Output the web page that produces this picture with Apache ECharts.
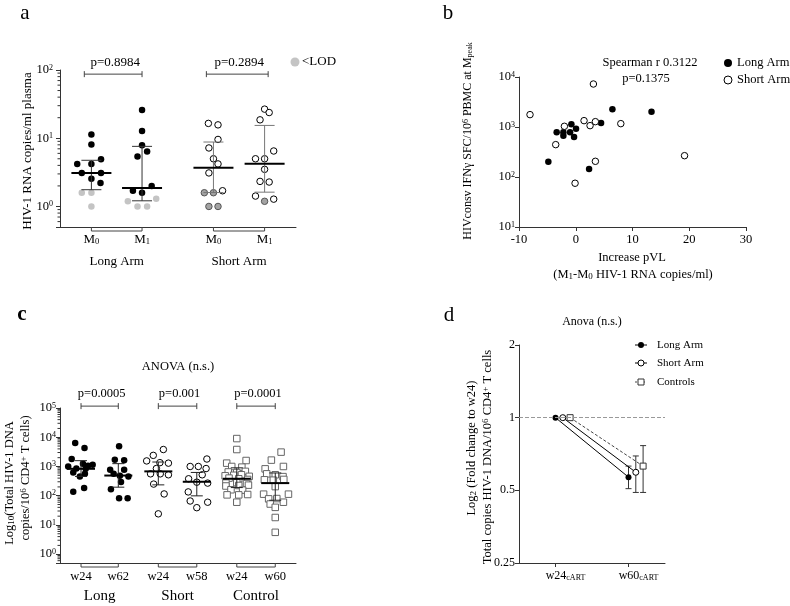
<!DOCTYPE html>
<html>
<head>
<meta charset="utf-8">
<title>HIV-1 RNA, HIVconsv responses and total HIV-1 DNA</title>
<script src="https://cdn.jsdelivr.net/npm/echarts@6.0.0/dist/echarts.min.js"></script>
</head>
<body style="margin: 0">
<div id="main" style="width: 790px; height: 606px"></div>
<script>
// ---------- panel a : plasma HIV-1 RNA at M0 / M1 ----------
var aPos = [1, 2, 3.41, 4.42];
var aTickMain = ['M', 'M', 'M', 'M'];
var aTickSub = ['0', '1', '0', '1'];
var aGroups = ['Long Arm', 'Short Arm'];
var aPvals = ['p=0.8984', 'p=0.2894'];
var aBracketX = [[0.86, 2.0], [3.27, 4.49]];
// [jitter from group position, copies/ml]
var aLongM0 = [[0, 11.3], [0, 8.1], [0.19, 4.9], [-0.28, 4.2], [0, 4.2], [-0.19, 3.1], [0.19, 3.1], [0, 2.55], [0.18, 2.2]];
var aLongM0Lod = [[-0.19, 1.59], [0, 1.59], [0, 1.0]];
var aLongM1 = [[0, 26], [0, 12.8], [0, 7.9], [0.1, 6.4], [-0.09, 5.4], [0.19, 2.0], [-0.18, 1.7], [0, 1.59]];
var aLongM1Lod = [[0.28, 1.3], [-0.28, 1.19], [-0.09, 1.0], [0.1, 1.0]];
var aShortM0 = [[-0.1, 16.5], [0.09, 15.7], [0.09, 9.6], [-0.09, 7.2], [0, 5.0], [0.09, 4.2], [-0.09, 3.1], [0.18, 1.7]];
var aShortM0Lod = [[-0.18, 1.59], [0, 1.59], [-0.09, 1.0], [0.09, 1.0]];
var aShortM1 = [[0, 26.7], [0.09, 23.8], [-0.09, 18.6], [0.18, 6.5], [-0.18, 5.0], [0, 5.0], [0, 3.5], [-0.09, 2.33], [0.09, 2.28], [-0.18, 1.42], [0.18, 1.28]];
var aShortM1Lod = [[0, 1.19]];
var aMedian = [3.1, 1.86, 3.7, 4.24];
var aLow = [1.76, 1.21, 1.6, 1.62];
var aHigh = [4.75, 7.6, 8.8, 15.4];

// ---------- panel b : increase pVL vs HIVconsv response ----------
var bLong = [[-4.83, 203], [-3.36, 783], [-2.18, 783], [-2.18, 672], [-1.0, 783], [-0.77, 1133], [-0.3, 631], [0.05, 927], [2.35, 145], [4.46, 1202], [6.46, 2259], [13.35, 2028]];
var bShort = [[-8.06, 1767], [-3.53, 444], [-2.0, 1033], [-0.12, 75], [1.46, 1340], [2.52, 1064], [3.11, 7244], [3.46, 1279], [3.46, 206], [7.94, 1167], [19.17, 267]];

// ---------- panel c : total HIV-1 DNA ----------
var cPos = [1, 1.96, 2.99, 3.98, 5.01, 6.0];
var cTicks = ['w24', 'w62', 'w24', 'w58', 'w24', 'w60'];
var cGroups = ['Long', 'Short', 'Control'];
var cPvals = ['p=0.0005', 'p=0.001', 'p=0.0001'];
var cLongW24 = [[-0.15, 6400], [0.09, 4300], [-0.24, 1800], [0.05, 1250], [0.3, 1150], [-0.33, 1000], [0.18, 1050], [-0.12, 850], [0.12, 830], [-0.2, 620], [0.1, 560], [-0.03, 450], [-0.2, 138], [0.08, 182]];
var cLongW62 = [[0.02, 4900], [-0.09, 1700], [0.15, 1620], [-0.21, 780], [0.15, 780], [0.04, 480], [0.26, 455], [-0.12, 560], [0.07, 292], [-0.19, 165], [0.02, 82], [0.24, 82]];
var cShortW24 = [[0.13, 3800], [-0.13, 2400], [-0.3, 1550], [0.04, 1350], [0.26, 1300], [-0.05, 850], [-0.2, 560], [0.05, 560], [0.26, 520], [-0.12, 250], [0.15, 115], [0, 24]];
var cShortW58 = [[0.26, 1800], [-0.17, 1000], [0.04, 1000], [0.24, 850], [0.14, 520], [-0.21, 380], [0, 290], [0.28, 270], [-0.22, 135], [-0.17, 66], [0.28, 60], [0, 39]];
var cCtrlW24 = [[0, 9000], [0, 3800], [0.24, 1600], [-0.26, 1300], [-0.13, 1000], [0.13, 950], [-0.22, 650], [0, 620], [0.22, 680], [-0.3, 480], [-0.08, 500], [0.12, 520], [0.32, 460], [-0.2, 400], [0.05, 380], [0.28, 360], [-0.28, 270], [0, 280], [0.25, 260], [-0.28, 215], [0.05, 224], [0.3, 230], [-0.15, 160], [0.15, 155], [-0.25, 107], [0.05, 107], [0.28, 110], [0, 60]];
var cCtrlW60 = [[0.15, 3100], [-0.1, 1650], [-0.26, 830], [0.21, 1000], [-0.22, 560], [0, 520], [0.2, 450], [-0.28, 350], [-0.05, 340], [0.22, 360], [0, 205], [-0.3, 113], [0.34, 113], [-0.17, 78], [0.04, 80], [0.21, 60], [-0.13, 52], [0, 40], [0, 18], [0, 5.6]];
var cMedian = [833, 490, 680, 300, 380, 270];
var cLow = [457, 196, 235, 99, 190, 70];
var cHigh = [1580, 1250, 1420, 625, 900, 600];

// ---------- panel d : fold change to w24 ----------
var dPos = [1, 2];
var dTicks = ['w24', 'w60'];
var dNames = ['Long Arm', 'Short Arm', 'Controls'];
var dValues = [[1, 0.567], [1, 0.594], [1, 0.63]];
var dLow = [0.508, 0.49, 0.49];
var dHigh = [0.63, 0.694, 0.766];

var SERIF = '"Liberation Serif", "DejaVu Serif", serif';
var AXIS = '#333';
var dShift = [0, 0.1, 0.2];

function place(pos, pts) {
    return pts.map(function (p) { return [pos + p[0], p[1]]; });
}

function powLabel(v) {
    if (v < 0.9) return '';
    return '{b|10}{s|' + Math.round(Math.log10(v)) + '}';
}
var powRich = {
    b: { fontFamily: SERIF, fontSize: 12.5, color: '#000' },
    s: { fontFamily: SERIF, fontSize: 8, color: '#000', verticalAlign: 'top' }
};

function tickFormatter(pos, main, sub) {
    return function (v) {
        var k = 0;
        for (var i = 1; i < pos.length; i++) {
            if (Math.abs(pos[i] - v) < Math.abs(pos[k] - v)) k = i;
        }
        return '{m|' + main[k] + '}' + (sub ? '{u|' + sub[k] + '}' : '');
    };
}
function tickRich(size, subSize) {
    return {
        m: { fontFamily: SERIF, fontSize: size, color: '#000' },
        u: { fontFamily: SERIF, fontSize: subSize, color: '#000', verticalAlign: 'bottom' }
    };
}

function medianBars(halfMed, halfCap, colors) {
    return function (params, api) {
        var x = api.value(0);
        var m = api.coord([x, api.value(1)]);
        var lo = api.coord([x, api.value(2)]);
        var hi = api.coord([x, api.value(3)]);
        var c = colors[params.dataIndex];
        var kids = [
            { type: 'line', shape: { x1: m[0], y1: lo[1], x2: m[0], y2: hi[1] }, style: { stroke: c, lineWidth: 1 } },
            { type: 'line', shape: { x1: m[0] - halfCap, y1: lo[1], x2: m[0] + halfCap, y2: lo[1] }, style: { stroke: c, lineWidth: 1 } },
            { type: 'line', shape: { x1: m[0] - halfCap, y1: hi[1], x2: m[0] + halfCap, y2: hi[1] }, style: { stroke: c, lineWidth: 1 } }
        ];
        if (halfMed > 0) {
            kids.push({ type: 'line', shape: { x1: m[0] - halfMed, y1: m[1], x2: m[0] + halfMed, y2: m[1] }, style: { stroke: '#000', lineWidth: 2 } });
        }
        return { type: 'group', children: kids };
    };
}

function topBracket(texts, size) {
    return function (params, api) {
        var p = api.coord([api.value(0), api.value(2)]);
        var q = api.coord([api.value(1), api.value(2)]);
        var st = function () { return { stroke: '#444', lineWidth: 1 }; };
        return { type: 'group', children: [
            { type: 'line', shape: { x1: p[0], y1: p[1], x2: q[0], y2: q[1] }, style: st() },
            { type: 'line', shape: { x1: p[0], y1: p[1] - 3, x2: p[0], y2: p[1] + 3 }, style: st() },
            { type: 'line', shape: { x1: q[0], y1: q[1] - 3, x2: q[0], y2: q[1] + 3 }, style: st() },
            { type: 'text', style: { text: texts[params.dataIndex], x: (p[0] + q[0]) / 2 + 2, y: p[1] - 12,
                align: 'center', verticalAlign: 'middle', font: size + 'px ' + SERIF, fill: '#000' } }
        ] };
    };
}

function bottomBracket(texts, size, gap) {
    return function (params, api) {
        var p = api.coord([api.value(0), api.value(2)]);
        var q = api.coord([api.value(1), api.value(2)]);
        return { type: 'group', children: [
            { type: 'polyline', shape: { points: [[p[0], p[1]], [p[0], p[1] + 4], [q[0], q[1] + 4], [q[0], q[1]]] },
                style: { stroke: '#444', fill: null, lineWidth: 1 } },
            { type: 'text', style: { text: texts[params.dataIndex], x: (p[0] + q[0]) / 2, y: p[1] + gap,
                align: 'center', verticalAlign: 'middle', font: size + 'px ' + SERIF, fill: '#000' } }
        ] };
    };
}

function minorTick(params, api) {
    var p = api.coord([api.value(0), api.value(1)]);
    return { type: 'line', shape: { x1: p[0] - 2.5, y1: p[1], x2: p[0], y2: p[1] }, style: { stroke: AXIS, lineWidth: 1 } };
}
function minorValues(xMin, lo, hi) {
    var out = [];
    for (var e = Math.floor(Math.log10(lo)); e < Math.log10(hi); e++) {
        for (var k = 2; k <= 9; k++) {
            var v = k * Math.pow(10, e);
            if (v > lo && v < hi) out.push([xMin, v]);
        }
    }
    return out;
}

function logAxis(grid, min, max, margin) {
    return {
        gridIndex: grid, type: 'log', logBase: 10, min: min, max: max,
        axisLine: { show: true, onZero: false, lineStyle: { color: AXIS } },
        axisTick: { show: true, length: 4, lineStyle: { color: AXIS } },
        axisLabel: { margin: margin, formatter: powLabel, rich: powRich },
        splitLine: { show: false }
    };
}

var textRich = function (size) {
    var sub = Math.round(size * 0.68);
    return {
        sup: { fontFamily: SERIF, fontSize: sub, fill: '#000', verticalAlign: 'top' },
        sub: { fontFamily: SERIF, fontSize: sub, fill: '#000', verticalAlign: 'bottom' }
    };
};
function txt(x, y, text, size, opt) {
    opt = opt || {};
    return {
        type: 'text', x: x, y: y, rotation: opt.rot || 0, silent: true,
        style: {
            text: text, font: (opt.bold ? 'bold ' : '') + size + 'px ' + SERIF, fill: '#000',
            align: opt.align || 'center', verticalAlign: 'middle', rich: textRich(size)
        }
    };
}
var R = Math.PI / 2;

var chart = echarts.init(document.getElementById('main'));

var option = {
    animation: false,
    backgroundColor: '#fff',
    textStyle: { fontFamily: SERIF },
    grid: [
        { left: 60, top: 70, width: 236, height: 157, containLabel: false, outerBoundsMode: 'none' },
        { left: 519, top: 77, width: 227, height: 150, containLabel: false, outerBoundsMode: 'none' },
        { left: 60, top: 408, width: 236, height: 155, containLabel: false, outerBoundsMode: 'none' },
        { left: 519, top: 345, width: 146, height: 218, containLabel: false, outerBoundsMode: 'none' }
    ],
    xAxis: [
        {
            gridIndex: 0, type: 'value', min: 0.38, max: 5.04,
            axisLine: { onZero: false, lineStyle: { color: AXIS } },
            axisTick: { show: false }, splitLine: { show: false },
            axisLabel: { customValues: aPos, margin: 6, formatter: tickFormatter(aPos, aTickMain, aTickSub), rich: tickRich(13, 8.5) }
        },
        {
            gridIndex: 1, type: 'value', min: -10, max: 30, interval: 10,
            axisLine: { onZero: false, lineStyle: { color: AXIS } },
            axisTick: { length: 4, lineStyle: { color: AXIS } }, splitLine: { show: false },
            axisLabel: { margin: 6, color: '#000', fontFamily: SERIF, fontSize: 12.5 }
        },
        {
            gridIndex: 2, type: 'value', min: 0.459, max: 6.534,
            axisLine: { onZero: false, lineStyle: { color: AXIS } },
            axisTick: { show: false }, splitLine: { show: false },
            axisLabel: { customValues: cPos, margin: 7, formatter: tickFormatter(cPos, cTicks), rich: tickRich(12.5, 8) }
        },
        {
            gridIndex: 3, type: 'value', min: 0.5, max: 2.5,
            axisLine: { onZero: false, lineStyle: { color: AXIS } },
            axisTick: { customValues: dPos, length: 4, lineStyle: { color: AXIS } }, splitLine: { show: false },
            axisLabel: { customValues: dPos, margin: 7, padding: [0, 0, 0, 20],
                formatter: tickFormatter(dPos, dTicks, ['cART', 'cART']), rich: tickRich(12, 8) }
        }
    ],
    yAxis: [
        logAxis(0, 0.5, 100, 7),
        logAxis(1, 10, 10000, 4),
        logAxis(2, 0.5, 100000, 4),
        {
            gridIndex: 3, type: 'log', logBase: 2, min: 0.25, max: 2,
            axisLine: { show: true, onZero: false, lineStyle: { color: AXIS } },
            axisTick: { show: true, length: 4, lineStyle: { color: AXIS } },
            axisLabel: { margin: 4, color: '#000', fontFamily: SERIF, fontSize: 12,
                formatter: function (v) { return String(Math.round(v * 100) / 100); } },
            splitLine: { show: false }
        }
    ],
    series: [
        // ---- a ----
        { type: 'scatter', xAxisIndex: 0, yAxisIndex: 0, symbolSize: 6.5,
            itemStyle: { color: '#000', opacity: 1 },
            data: place(aPos[0], aLongM0).concat(place(aPos[1], aLongM1)) },
        { type: 'scatter', xAxisIndex: 0, yAxisIndex: 0, symbolSize: 6.5,
            itemStyle: { color: '#c4c4c4', opacity: 1 },
            data: place(aPos[0], aLongM0Lod).concat(place(aPos[1], aLongM1Lod)) },
        { type: 'scatter', xAxisIndex: 0, yAxisIndex: 0, symbolSize: 6.5,
            itemStyle: { color: '#fff', borderColor: '#000', borderWidth: 1, opacity: 1 },
            data: place(aPos[2], aShortM0).concat(place(aPos[3], aShortM1)) },
        { type: 'scatter', xAxisIndex: 0, yAxisIndex: 0, symbolSize: 6.5,
            itemStyle: { color: '#a3a3a3', borderColor: '#555', borderWidth: 1, opacity: 1 },
            data: place(aPos[2], aShortM0Lod).concat(place(aPos[3], aShortM1Lod)) },
        { type: 'custom', xAxisIndex: 0, yAxisIndex: 0, z: 5, encode: { x: 0, y: [1, 2, 3] },
            renderItem: medianBars(20, 10, ['#333', '#333', '#777', '#777']),
            data: aPos.map(function (x, i) { return [x, aMedian[i], aLow[i], aHigh[i]]; }) },
        { type: 'custom', xAxisIndex: 0, yAxisIndex: 0, encode: { x: [0, 1], y: 2 },
            renderItem: topBracket(aPvals, 13),
            data: aBracketX.map(function (b) { return [b[0], b[1], 87]; }) },
        { type: 'custom', xAxisIndex: 0, yAxisIndex: 0, encode: { x: [0, 1], y: 2 },
            renderItem: bottomBracket(aGroups, 13, 35),
            data: [[aPos[0], aPos[1], 0.5], [aPos[2], aPos[3], 0.5]] },
        { type: 'custom', xAxisIndex: 0, yAxisIndex: 0, encode: { x: 0, y: 1 },
            renderItem: minorTick, data: minorValues(0.38, 0.5, 100) },

        // ---- b ----
        { type: 'scatter', xAxisIndex: 1, yAxisIndex: 1, symbolSize: 6.5,
            itemStyle: { color: '#000', opacity: 1 }, data: bLong },
        { type: 'scatter', xAxisIndex: 1, yAxisIndex: 1, symbolSize: 6.5,
            itemStyle: { color: '#fff', borderColor: '#000', borderWidth: 1, opacity: 1 }, data: bShort },

        // ---- c ----
        { type: 'scatter', xAxisIndex: 2, yAxisIndex: 2, symbolSize: 6.5,
            itemStyle: { color: '#000', opacity: 1 },
            data: place(cPos[0], cLongW24).concat(place(cPos[1], cLongW62)) },
        { type: 'scatter', xAxisIndex: 2, yAxisIndex: 2, symbolSize: 6.5,
            itemStyle: { color: '#fff', borderColor: '#000', borderWidth: 1, opacity: 1 },
            data: place(cPos[2], cShortW24).concat(place(cPos[3], cShortW58)) },
        { type: 'scatter', xAxisIndex: 2, yAxisIndex: 2, symbol: 'rect', symbolSize: 6.5,
            itemStyle: { color: '#fff', borderColor: '#666', borderWidth: 1, opacity: 1 },
            data: place(cPos[4], cCtrlW24).concat(place(cPos[5], cCtrlW60)) },
        { type: 'custom', xAxisIndex: 2, yAxisIndex: 2, z: 5, encode: { x: 0, y: [1, 2, 3] },
            renderItem: medianBars(14, 6, ['#222', '#222', '#222', '#222', '#222', '#222']),
            data: cPos.map(function (x, i) { return [x, cMedian[i], cLow[i], cHigh[i]]; }) },
        { type: 'custom', xAxisIndex: 2, yAxisIndex: 2, encode: { x: [0, 1], y: 2 },
            renderItem: topBracket(cPvals, 12.5),
            data: [[cPos[0], cPos[1], 116000], [cPos[2], cPos[3], 116000], [cPos[4], cPos[5], 116000]] },
        { type: 'custom', xAxisIndex: 2, yAxisIndex: 2, encode: { x: [0, 1], y: 2 },
            renderItem: bottomBracket(cGroups, 15, 33),
            data: [[cPos[0], cPos[1], 0.5], [cPos[2], cPos[3], 0.5], [cPos[4], cPos[5], 0.5]] },
        { type: 'custom', xAxisIndex: 2, yAxisIndex: 2, encode: { x: 0, y: 1 },
            renderItem: minorTick, data: minorValues(0.459, 0.5, 100000) },

        // ---- d ----
        { type: 'line', name: dNames[0], xAxisIndex: 3, yAxisIndex: 3, symbol: 'circle', symbolSize: 6,
            itemStyle: { color: '#000' }, lineStyle: { color: '#000', width: 1 },
            data: dPos.map(function (x, i) { return [x + dShift[0], dValues[0][i]]; }),
            markLine: { silent: true, symbol: 'none', label: { show: false },
                lineStyle: { type: 'dashed', color: '#999', width: 1 }, data: [{ yAxis: 1 }] } },
        { type: 'line', name: dNames[1], xAxisIndex: 3, yAxisIndex: 3, symbol: 'circle', symbolSize: 6,
            itemStyle: { color: '#fff', borderColor: '#000', borderWidth: 1 }, lineStyle: { color: '#000', width: 1 },
            data: dPos.map(function (x, i) { return [x + dShift[1], dValues[1][i]]; }) },
        { type: 'line', name: dNames[2], xAxisIndex: 3, yAxisIndex: 3, symbol: 'rect', symbolSize: 6,
            itemStyle: { color: '#fff', borderColor: '#333', borderWidth: 1 },
            lineStyle: { color: '#444', width: 1, type: [3, 2] },
            data: dPos.map(function (x, i) { return [x + dShift[2], dValues[2][i]]; }) },
        { type: 'custom', xAxisIndex: 3, yAxisIndex: 3, z: 1, encode: { x: 0, y: [1, 2, 3] },
            renderItem: medianBars(0, 3, ['#333', '#333', '#333']),
            data: dValues.map(function (v, i) { return [dPos[1] + dShift[i], v[1], dLow[i], dHigh[i]]; }) }
    ],
    graphic: [
        // panel letters
        txt(25, 13, 'a', 21), txt(448, 13, 'b', 21), txt(22, 315, 'c', 21, { bold: true }), txt(449, 315, 'd', 21),
        // a
        txt(28, 151, 'HIV-1 RNA copies/ml plasma', 13, { rot: R }),
        { type: 'circle', shape: { cx: 295, cy: 62, r: 4.5 }, style: { fill: '#c4c4c4' }, silent: true },
        txt(302, 62, '<LOD', 13, { align: 'left' }),
        // b
        txt(468, 141, 'HIVconsv IFNγ SFC/10{sup|6} PBMC at M{sub|peak}', 12, { rot: R }),
        txt(632, 258, 'Increase pVL', 12.5),
        txt(633, 275, '(M{sub|1}-M{sub|0} HIV-1 RNA copies/ml)', 12.5),
        txt(650, 63, 'Spearman r 0.3122', 12.5),
        txt(646, 79, 'p=0.1375', 12.5),
        { type: 'circle', shape: { cx: 728, cy: 63, r: 4 }, style: { fill: '#000' }, silent: true },
        txt(737, 63, 'Long Arm', 12.5, { align: 'left' }),
        { type: 'circle', shape: { cx: 728, cy: 80, r: 4 }, style: { fill: '#fff', stroke: '#000', lineWidth: 1 }, silent: true },
        txt(737, 80, 'Short Arm', 12.5, { align: 'left' }),
        // c
        txt(178, 367, 'ANOVA (n.s.)', 12.5),
        txt(10, 483, 'Log{sub|10}(Total HIV-1 DNA', 12.5, { rot: R }),
        txt(26, 478, 'copies/10{sup|6} CD4{sup|+} T cells)', 12.5, { rot: R }),
        // d
        txt(592, 322, 'Anova (n.s.)', 12),
        txt(472, 448, 'Log{sub|2} (Fold change to w24)', 12.5, { rot: R }),
        txt(488, 457, 'Total copies HIV-1 DNA/10{sup|6} CD4{sup|+} T cells', 12.5, { rot: R }),
        { type: 'line', shape: { x1: 635, y1: 345, x2: 647, y2: 345 }, style: { stroke: '#000', lineWidth: 1 }, silent: true },
        { type: 'circle', shape: { cx: 641, cy: 345, r: 3 }, style: { fill: '#000' }, silent: true },
        txt(657, 345, 'Long Arm', 11, { align: 'left' }),
        { type: 'line', shape: { x1: 635, y1: 363, x2: 647, y2: 363 }, style: { stroke: '#000', lineWidth: 1 }, silent: true },
        { type: 'circle', shape: { cx: 641, cy: 363, r: 3 }, style: { fill: '#fff', stroke: '#000', lineWidth: 1 }, silent: true },
        txt(657, 363, 'Short Arm', 11, { align: 'left' }),
        { type: 'line', shape: { x1: 635, y1: 382, x2: 647, y2: 382 }, style: { stroke: '#444', lineWidth: 1, lineDash: [2, 2] }, silent: true },
        { type: 'rect', shape: { x: 638, y: 379, width: 6, height: 6 }, style: { fill: '#fff', stroke: '#333', lineWidth: 1 }, silent: true },
        txt(657, 382, 'Controls', 11, { align: 'left' })
    ]
};

chart.setOption(option);
</script>
</body>
</html>
